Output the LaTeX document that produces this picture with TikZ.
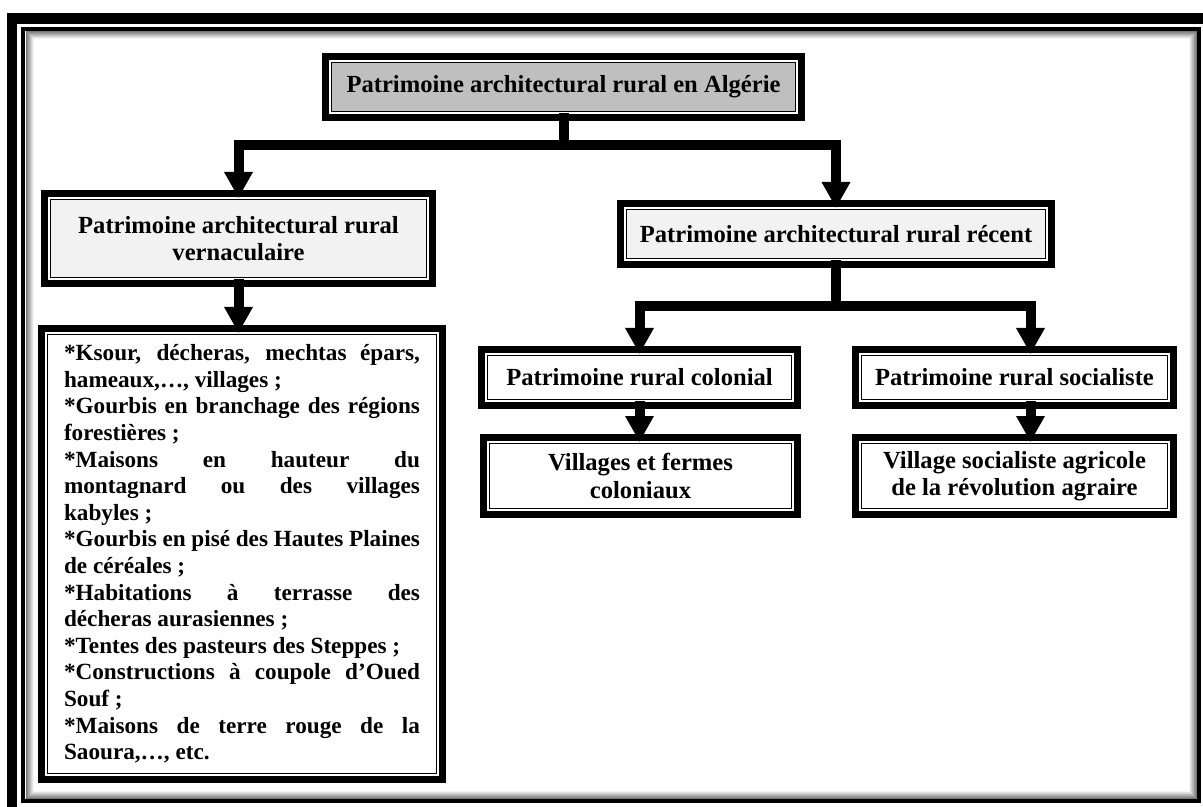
\documentclass[tikz,border=0pt]{standalone}
\usepackage{fontspec}
\setmainfont{Liberation Serif}
\usetikzlibrary{arrows.meta}
\definecolor{headgray}{HTML}{BFBFBF}
\definecolor{palegray}{HTML}{F2F2F2}

\begin{document}
\begin{tikzpicture}[x=0.5pt, y=-0.5pt,
  box/.style={draw, line width=0.5pt, double=white, double distance=0.75pt,
    preaction={draw, line width=8pt}, inner sep=0pt, outer sep=0pt,
    align=center, font=\bfseries\fontsize{12.3pt}{13.8pt}\selectfont},
  conn/.style={line width=5pt, -{Triangle[length=13pt, width=13.5pt]}}]
\useasboundingbox (0,0) rectangle (1203,807);
% page frame
\fill (7,13) rectangle (1203,24);
\fill (7,13) rectangle (17,807);
\draw[line width=2pt] (23,29) rectangle (1199,801);
\foreach \d [evaluate=\d as \c using int(60-7*\d)] in {1,...,8}
  \draw[black!\c, line width=0.5pt] (25+\d,31+\d) rectangle (1197-\d,799-\d);

\node[box, fill=headgray, minimum width=233.5pt, minimum height=26pt] (root) at (563.5,87)
  {Patrimoine architectural rural en Algérie};
\node[box, fill=palegray, minimum width=189.5pt, minimum height=40.5pt] (vern) at (238.5,238.5)
  {Patrimoine architectural rural\\vernaculaire};
\node[box, fill=palegray, minimum width=211pt, minimum height=26pt] (rec) at (836,234)
  {Patrimoine architectural rural récent};
\node[box, fill=white, minimum width=196pt, minimum height=221pt, text width=178pt,
  align=justify, font=\bfseries\fontsize{11.6pt}{13.3pt}\selectfont] (types) at (242,554)
  {*Ksour, décheras, mechtas épars,\linebreak hameaux,…, villages ;\par
   *Gourbis en branchage des régions\linebreak forestières ;\par
   *Maisons en hauteur du\linebreak montagnard ou des villages\linebreak kabyles ;\par
   *Gourbis en pisé des Hautes Plaines\linebreak de céréales ;\par
   *Habitations à terrasse des\linebreak décheras aurasiennes ;\par
   *Tentes des pasteurs des Steppes ;\par
   *Constructions à coupole d’Oued\linebreak Souf ;\par
   *Maisons de terre rouge de la\linebreak Saoura,…, etc.};
\node[box, fill=white, minimum width=153.5pt, minimum height=23.5pt] (col) at (639.5,377.5)
  {Patrimoine rural colonial};
\node[box, fill=white, minimum width=154.5pt, minimum height=23.5pt] (soc) at (1014.5,377.5)
  {Patrimoine rural socialiste};
\node[box, fill=white, minimum width=152.5pt, minimum height=34pt] (vil) at (640.5,476)
  {Villages et fermes\\coloniaux};
\node[box, fill=white, minimum width=154.5pt, minimum height=34pt] (socv) at (1014.5,476)
  {Village socialiste agricole\\de la révolution agraire};

% connectors
\draw[conn] (root.south) -- ++(0,32) -| (vern.north);
\draw[conn] (root.south) -- ++(0,32) -| (rec.north);
\draw[conn] (vern.south) -- (vern.south |- types.north);
\draw[conn] (rec.south) -- ++(0,46) -| (col.north);
\draw[conn] (rec.south) -- ++(0,46) -| ([xshift=8pt]soc.north);
\draw[conn] (col.south) -- (col.south |- vil.north);
\draw[conn] ([xshift=8pt]soc.south) -- ([xshift=8pt]socv.north);
\end{tikzpicture}
\end{document}
